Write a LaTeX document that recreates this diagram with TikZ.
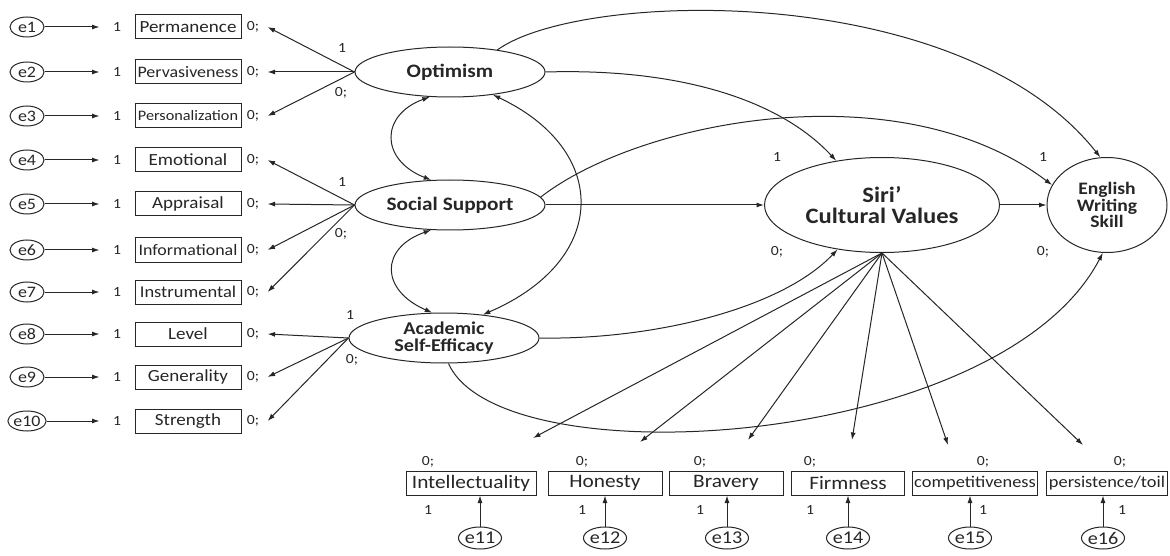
\documentclass[tikz,border=0pt]{standalone}
\usepackage{fontspec}
\setmainfont{Carlito}[FakeStretch=1.12]
\usetikzlibrary{arrows.meta,shapes.geometric}
\begin{document}
\begin{tikzpicture}[x=1pt,y=-1pt,line width=1pt,draw=black!85,text=black!85,
  arr/.style={-{Latex[length=7.5pt,width=5pt]}},
  darr/.style={{Latex[length=7.5pt,width=5pt]}-{Latex[length=7.5pt,width=5pt]}},
  err/.style={draw,ellipse,minimum width=34pt,minimum height=20pt,inner sep=0pt,font=\fontsize{16}{16}\selectfont},
  berr/.style={draw,ellipse,minimum width=40pt,minimum height=22pt,inner sep=0pt,font=\fontsize{18}{18}\selectfont},
  obs/.style={draw,rectangle,minimum width=106pt,minimum height=24pt,inner sep=1pt,font=\fontsize{17}{17}\selectfont},
  bobs/.style={draw,rectangle,minimum height=24pt,inner sep=1pt,font=\fontsize{19}{19}\selectfont},
  lat/.style={draw,ellipse,minimum width=190pt,minimum height=50pt,inner sep=0pt,align=center,font=\bfseries\fontsize{19}{16}\selectfont},
  num/.style={inner sep=0pt,font=\fontsize{14}{14}\selectfont}]
\useasboundingbox (0,0) rectangle (1170,556);

% left indicators
\foreach \i/\t/\y in {1/Permanence/27,2/{\fontsize{16}{16}\selectfont Pervasiveness}/72,3/{\fontsize{14.5}{14.5}\selectfont Personalization}/116,4/Emotional/160,5/Appraisal/204,6/{\fontsize{16}{16}\selectfont Informational}/250,7/{\fontsize{16.5}{16.5}\selectfont Instrumental}/292,8/Level/334,9/Generality/377,10/Strength/421}{
  \node[err] (e\i) at (27,\y) {e\i};
  \node[num] (l\i) at (117,\y) {1};
  \node[obs] (o\i) at (188,\y) {\t};
  \node[num] (z\i) at (253,\y) {0;};
  \draw[arr,shorten >=13pt] (e\i.east) -- (l\i.west);
}

% latent variables
\node[lat] (opt) at (450,72) {Optimism};
\node[lat] (soc) at (450,205) {Social Support};
\node[lat,font=\bfseries\fontsize{18}{17}\selectfont] (acad) at (444,338) {Academic\\Self-Efficacy};
\node[lat,minimum width=235pt,minimum height=95pt,font=\bfseries\fontsize{22}{21}\selectfont] (siri) at (882,205) {Siri’\\Cultural Values};
\node[lat,minimum width=120pt,minimum height=95pt,font=\bfseries\fontsize{17.5}{16.5}\selectfont] (ews) at (1107,205) {English\\Writing\\Skill};

% latent labels
\node[num] (o1a) at (342,48) {1};
\node[num] (o0a) at (341,93) {0;};
\node[num] (s1a) at (342,182) {1};
\node[num] (s0a) at (341,234) {0;};
\node[num] (a1a) at (350,315) {1};
\node[num] (a0a) at (352,360) {0;};
\node[num] (r1a) at (777,157) {1};
\node[num] (r0a) at (777,252) {0;};
\node[num] (w1a) at (1043,157) {1};
\node[num] (w0a) at (1043,252) {0;};

% loadings
\foreach \i in {1,2,3}{\draw[arr] (opt.west) -- ([xshift=8pt]z\i.east);}
\foreach \i in {4,5,6,7}{\draw[arr] (soc.west) -- ([xshift=8pt]z\i.east);}
\foreach \i in {8,9,10}{\draw[arr] (acad.west) -- ([xshift=8pt]z\i.east);}

% structural paths
\draw[arr] (soc.east) -- (siri.west);
\draw[arr] (siri.east) -- (ews.west);
\draw[arr] (opt.25) .. controls (580,-10) and (960,-20) .. (ews.98);
\draw[arr] (opt.east) .. controls (680,68) and (780,100) .. (siri.136);
\draw[arr] (soc.5) .. controls (640,120) and (900,70) .. (ews.160);
\draw[arr] (acad.east) .. controls (650,340) and (780,310) .. (siri.225);
\draw[arr] (acad.-80) .. controls (500,480) and (1000,450) .. (ews.265);

% covariances
\draw[darr] (opt.231) .. controls (380,115) and (380,160) .. (soc.127);
\draw[darr] (soc.233) .. controls (380,248) and (380,290) .. (acad.115);
\draw[darr] (opt.-28) .. controls (610,150) and (610,260) .. (acad.31);

% bottom indicators
\coordinate (t1) at (533,438);
\coordinate (t2) at (640,442);
\coordinate (t3) at (748,440);
\coordinate (t4) at (852,440);
\coordinate (t5) at (948,445);
\coordinate (t6) at (1083,445);
\node[bobs,minimum width=130pt] (b1) at (471,483) {Intellectuality};
\node[bobs,minimum width=114pt] (b2) at (605,483) {Honesty};
\node[bobs,minimum width=114pt] (b3) at (726,483) {Bravery};
\node[bobs,minimum width=113pt] (b4) at (848,483) {Firmness};
\node[bobs,minimum width=125pt,font=\fontsize{16.4}{16}\selectfont] (b5) at (975,483) {competitiveness};
\node[bobs,minimum width=121pt,font=\fontsize{16.4}{16}\selectfont] (b6) at (1107,483) {persistence/toil};
\foreach \i in {1,...,6}{\draw[arr] (siri.south) -- (t\i);}

\foreach \i/\x/\zx/\ox in {11/480/428/428,12/605/582/582,13/727/700/700,14/848/810/810,15/970/983/983,16/1103/1120/1122}{
  \node[berr] (e\i) at (\x,538) {e\i};
  \node[num] (z\i) at (\zx,462) {0;};
  \node[num] (l\i) at (\ox,510) {1};
}
\draw[arr] (e11.north) -- (e11.north |- b1.south);
\draw[arr] (e12.north) -- (e12.north |- b2.south);
\draw[arr] (e13.north) -- (e13.north |- b3.south);
\draw[arr] (e14.north) -- (e14.north |- b4.south);
\draw[arr] (e15.north) -- (e15.north |- b5.south);
\draw[arr] (e16.north) -- (e16.north |- b6.south);
\end{tikzpicture}
\end{document}
